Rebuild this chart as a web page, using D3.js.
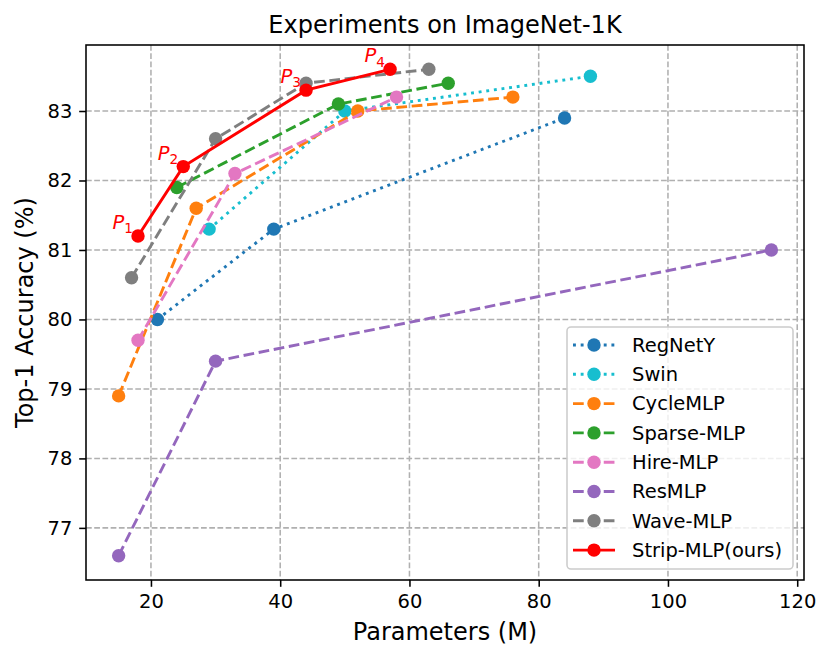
<!DOCTYPE html>
<html>
<head>
<meta charset="utf-8">
<script src="https://cdn.jsdelivr.net/npm/d3@7"></script>
<style>
  html, body { margin: 0; padding: 0; background: #fff; }
  svg { display: block; font-family: "DejaVu Sans", sans-serif; }
</style>
</head>
<body>
<svg id="chart" width="830" height="660"></svg>
<script>
// ── Data (params in M, top-1 acc in %) ──────────────────────────
const regnetY  = [[21, 80.0], [39, 81.3], [84, 82.9]];
const swin     = [[29, 81.3], [50, 83.0], [88, 83.5]];
const cycleMLP = [[15, 78.9], [27, 81.6], [52, 83.0], [76, 83.2]];
const sparseMLP= [[24, 81.9], [49, 83.1], [66, 83.4]];
const hireMLP  = [[18, 79.7], [33, 82.1], [58, 83.2]];
const resMLP   = [[15, 76.6], [30, 79.4], [116, 81.0]];
const waveMLP  = [[17, 80.6], [30, 82.6], [44, 83.4], [63, 83.6]];
const stripMLP = [[18, 81.2], [25, 82.2], [44, 83.3], [57, 83.6]];

const stripLabels = ["1", "2", "3", "4"];
const xTicks = [20, 40, 60, 80, 100, 120];
const yTicks = [77, 78, 79, 80, 81, 82, 83];

const LW = 2.9;
const DASHED = `${3.7 * LW} ${1.6 * LW}`;
const DOTTED = `${1 * LW} ${1.65 * LW}`;

const series = [
  { name: "RegNetY",         data: regnetY,   color: "#1f77b4", dash: DOTTED },
  { name: "Swin",            data: swin,      color: "#17becf", dash: DOTTED },
  { name: "CycleMLP",        data: cycleMLP,  color: "#ff7f0e", dash: DASHED },
  { name: "Sparse-MLP",      data: sparseMLP, color: "#2ca02c", dash: DASHED },
  { name: "Hire-MLP",        data: hireMLP,   color: "#e377c2", dash: DASHED },
  { name: "ResMLP",          data: resMLP,    color: "#9467bd", dash: DASHED },
  { name: "Wave-MLP",        data: waveMLP,   color: "#7f7f7f", dash: DASHED },
  { name: "Strip-MLP(ours)", data: stripMLP,  color: "#ff0000", dash: null },
];

// ── Layout ──────────────────────────────────────────────────────
const L = 86, R = 804, T = 45, B = 580;
const FS = 19.5;     // tick / legend font
const FL = 24;       // title / axis labels
const MR = 6.7;      // marker radius
const TICK = 6.8;

const svg = d3.select("#chart");

const x = d3.scaleLinear().domain([9.95, 121.05]).range([L, R]);
const y = d3.scaleLinear().domain([76.25, 83.95]).range([B, T]);

// Grid
const grid = svg.append("g").attr("class", "grid")
  .attr("stroke", "#b0b0b0").attr("stroke-width", 1.55)
  .attr("stroke-dasharray", `${3.7 * 1.55} ${1.6 * 1.55}`);
grid.selectAll("line.gx").data(xTicks).join("line")
  .attr("x1", (d) => x(d)).attr("x2", (d) => x(d))
  .attr("y1", T).attr("y2", B);
grid.selectAll("line.gy").data(yTicks).join("line")
  .attr("x1", L).attr("x2", R)
  .attr("y1", (d) => y(d)).attr("y2", (d) => y(d));

// Axes
const xAxis = svg.append("g")
  .attr("transform", `translate(0,${B})`)
  .call(d3.axisBottom(x).tickValues(xTicks).tickFormat(d3.format("d"))
    .tickSize(TICK).tickSizeOuter(0).tickPadding(6.8));
const yAxis = svg.append("g")
  .attr("transform", `translate(${L},0)`)
  .call(d3.axisLeft(y).tickValues(yTicks).tickFormat(d3.format("d"))
    .tickSize(TICK).tickSizeOuter(0).tickPadding(6.8));

for (const ax of [xAxis, yAxis]) {
  ax.select(".domain").remove();
  ax.selectAll(".tick line").attr("stroke", "#000").attr("stroke-width", 1.55);
  ax.selectAll(".tick text")
    .attr("fill", "#000")
    .attr("font-size", FS)
    .attr("font-family", "DejaVu Sans");
}
xAxis.selectAll(".tick text").attr("dy", null).attr("y", TICK + 6.8 + FS * 0.76);

// Series
const line = d3.line().x((d) => x(d[0])).y((d) => y(d[1]));
const plot = svg.append("g").attr("class", "series");

for (const s of series) {
  const g = plot.append("g");
  g.append("path")
    .datum(s.data)
    .attr("d", line)
    .attr("fill", "none")
    .attr("stroke", s.color)
    .attr("stroke-width", LW)
    .attr("stroke-dasharray", s.dash);
  g.selectAll("circle").data(s.data).join("circle")
    .attr("cx", (d) => x(d[0]))
    .attr("cy", (d) => y(d[1]))
    .attr("r", MR)
    .attr("fill", s.color);
}

// P labels on Strip-MLP
const pl = svg.append("g").attr("fill", "#ff0000").attr("font-size", FS);
stripMLP.forEach((d, i) => {
  const t = pl.append("text")
    .attr("x", x(d[0]) - 25.5)
    .attr("y", y(d[1]) - 7);
  t.append("tspan").attr("font-style", "italic").text("P");
  t.append("tspan").attr("font-size", FS * 0.7).attr("dy", 4.2).text(stripLabels[i]);
});

// Spines
svg.append("rect")
  .attr("x", L).attr("y", T)
  .attr("width", R - L).attr("height", B - T)
  .attr("fill", "none").attr("stroke", "#000").attr("stroke-width", 1.55);

// Title & labels
svg.append("text")
  .attr("x", (L + R) / 2).attr("y", 33)
  .attr("text-anchor", "middle").attr("font-size", FL)
  .text("Experiments on ImageNet-1K");
svg.append("text")
  .attr("x", (L + R) / 2).attr("y", 640)
  .attr("text-anchor", "middle").attr("font-size", FL)
  .text("Parameters (M)");
svg.append("text")
  .attr("transform", `translate(33,${(T + B) / 2}) rotate(-90)`)
  .attr("text-anchor", "middle").attr("font-size", FL)
  .text("Top-1 Accuracy (%)");

// Legend
const lg = svg.append("g").attr("class", "legend");
lg.append("rect")
  .attr("x", 567).attr("y", 327)
  .attr("width", 226).attr("height", 242)
  .attr("rx", 4).attr("ry", 4)
  .attr("fill", "#fff").attr("fill-opacity", 0.8)
  .attr("stroke", "#cccccc").attr("stroke-width", 1.55);

series.forEach((s, i) => {
  const cy = 345 + i * 29.3;
  const row = lg.append("g").attr("transform", `translate(0,${cy})`);
  row.append("line")
    .attr("x1", 573).attr("x2", 615)
    .attr("stroke", s.color).attr("stroke-width", LW)
    .attr("stroke-dasharray", s.dash);
  row.append("circle").attr("cx", 594).attr("r", MR).attr("fill", s.color);
  row.append("text")
    .attr("x", 632).attr("dy", "0.35em")
    .attr("font-size", FS)
    .text(s.name);
});
</script>
</body>
</html>
